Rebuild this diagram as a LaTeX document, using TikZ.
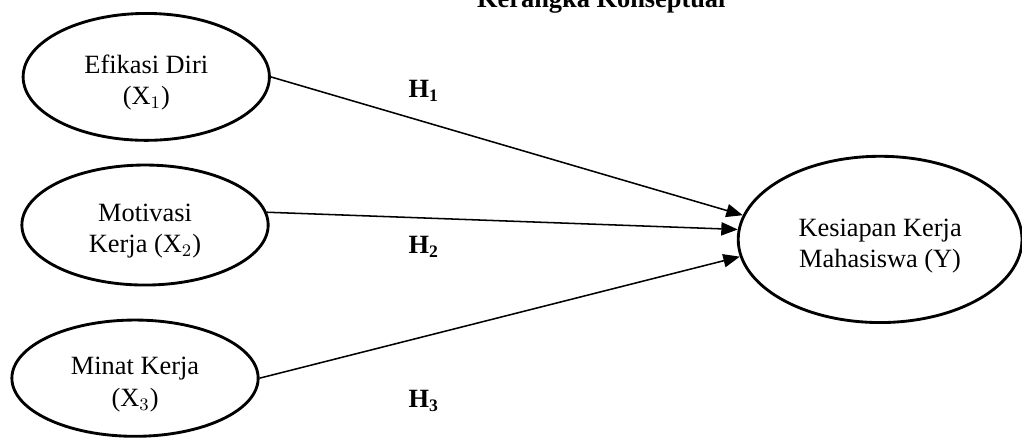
\documentclass[tikz,border=0pt]{standalone}
\usepackage{fontspec}
\setmainfont{Liberation Serif}
\usetikzlibrary{arrows.meta, shapes.geometric}

\begin{document}
\begin{tikzpicture}[
        var/.style={draw, ellipse, line width=1.3pt, inner sep=0pt, align=center,
            text height=28pt, font=\fontsize{12}{14.2}\selectfont},
        hyp/.style={anchor=base, font=\fontsize{12}{14.2}\selectfont},
        arrowline/.style={-{Triangle[length=7.5pt, width=6pt]}, line width=0.7pt}
    ]
        \useasboundingbox (0, 0) rectangle (16.35, 7.06);

        \node[hyp, font=\bfseries\fontsize{12}{14.2}\selectfont] (title) at (9.62, 6.94) {Kerangka Konseptual};

        \node[var, minimum width=3.94cm, minimum height=2.03cm] (efikasi) at (2.34, 5.83) {Efikasi Diri\\($\mathrm{X}_1$)};
        \node[var, minimum width=3.94cm, minimum height=1.92cm] (motivasi) at (2.32, 3.46) {Motivasi\\Kerja ($\mathrm{X}_2$)};
        \node[var, minimum width=3.94cm, minimum height=1.86cm] (minat) at (2.16, 1.01) {Minat Kerja\\($\mathrm{X}_3$)};
        \node[var, minimum width=4.54cm, minimum height=2.66cm] (kesiapan) at (14.08, 3.23) {Kesiapan Kerja\\Mahasiswa (Y)};

        \draw[arrowline] (efikasi.east) -- (kesiapan.170);
        \draw[arrowline] (motivasi.6) -- (kesiapan.176);
        \draw[arrowline] (minat.east) -- (kesiapan.187);

        \node[hyp] (h1) at (6.78, 5.50) {$\mathbf{H}_{\mathbf{1}}$};
        \node[hyp] (h2) at (6.78, 3.01) {$\mathbf{H}_{\mathbf{2}}$};
        \node[hyp] (h3) at (6.78, 0.54) {$\mathbf{H}_{\mathbf{3}}$};

    \end{tikzpicture}
\end{document}
